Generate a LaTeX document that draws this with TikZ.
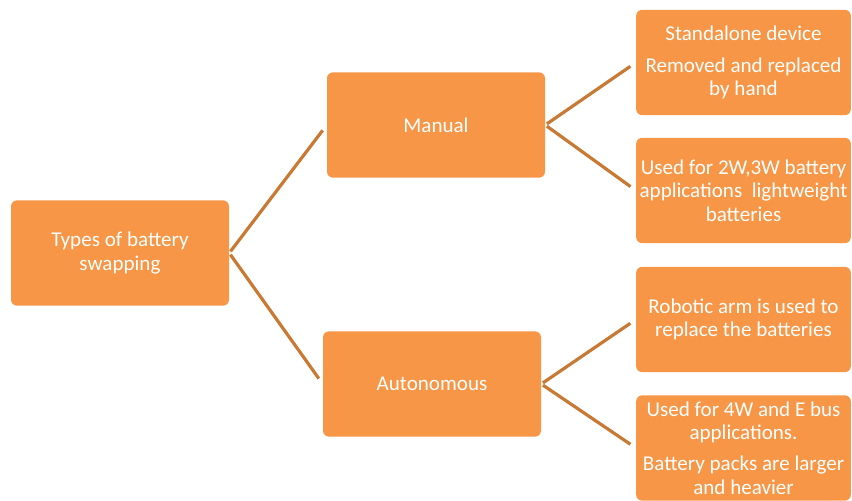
\documentclass[tikz,border=0pt]{standalone}
\usepackage{fontspec}
\setmainfont{Carlito}
\usetikzlibrary{positioning, arrows.meta}
\definecolor{boxorange}{RGB}{247,150,70}
\definecolor{linkbrown}{RGB}{200,122,52}

\begin{document}
\begin{tikzpicture}[x=0.75pt, y=-0.75pt,
    box/.style={fill=boxorange, text=white, rounded corners=4.5pt, minimum height=79pt, align=center, inner sep=2pt, font=\fontsize{15.8}{17.5}\selectfont},
    midbox/.style={box, minimum width=163.5pt},
    sidebox/.style={box, minimum width=161pt},
    link/.style={draw=linkbrown, line width=2.4pt, shorten <=1.5pt, shorten >=5pt}]
                \clip (0,0) rectangle (852,500);
                \node[midbox] (Types) at (120,253) {Types of battery\\ swapping};
                \node[midbox] (Manual) at (436,125) {Manual};
                \node[midbox] (Autonomous) at (432,384) {Autonomous};
                \node[sidebox] (Standalone) at (743.5,62.5) {Standalone device\\[6pt] Removed and replaced\\ by hand};
                \node[sidebox] (Used 2W) at (743.5,190.5) {Used for 2W,3W battery\\ applications\ \ lightweight\\ batteries};
                \node[sidebox] (Robotic) at (743.5,319.5) {Robotic arm is used to\\ replace the batteries};
                \node[sidebox] (Used 4W) at (743.5,448) {Used for 4W and E bus\\ applications.\\[6pt] Battery packs are larger\\ and heavier};

                \draw[link] (Types.east) -- (Manual.west);
                \draw[link] (Types.east) -- (Autonomous.west);
                \draw[link] (Manual.east) -- (Standalone.west);
                \draw[link] (Manual.east) -- (Used 2W.west);
                \draw[link] (Autonomous.east) -- (Robotic.west);
                \draw[link] (Autonomous.east) -- (Used 4W.west);
            \end{tikzpicture}
\end{document}
